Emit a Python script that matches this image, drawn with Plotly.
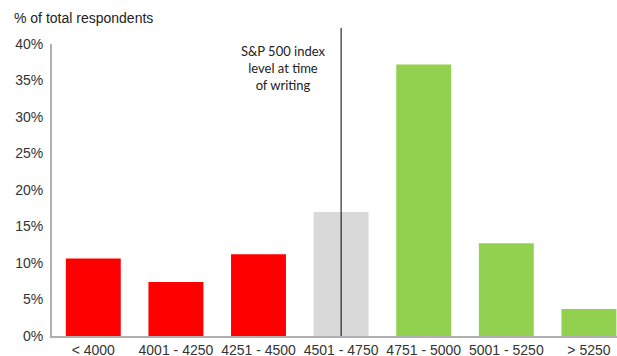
import plotly.graph_objects as go

categories = ["< 4000", "4001 - 4250", "4251 - 4500", "4501 - 4750", "4751 - 5000", "5001 - 5250", "> 5250"]
values = [10.6, 7.4, 11.2, 17.0, 37.2, 12.7, 3.7]
colors = ["#FF0000", "#FF0000", "#FF0000", "#D9D9D9", "#92D050", "#92D050", "#92D050"]
y_ticks = [0, 5, 10, 15, 20, 25, 30, 35, 40]
y_tick_labels = [f"{t}%" for t in y_ticks]
marker_position = 3  # category index of current index level line

fig = go.Figure()
fig.add_trace(go.Bar(
    x=list(range(len(categories))), y=values,
    marker=dict(color=colors, line=dict(width=0)),
    width=0.665,
    hoverinfo="skip",
))

fig.update_layout(
    width=617, height=356,
    margin=dict(l=52, r=0, t=44, b=20),
    paper_bgcolor="white", plot_bgcolor="white",
    showlegend=False,
    font=dict(family="Liberation Sans, Arial", size=14, color="#333333"),
    xaxis=dict(
        range=[-0.5, 6.34],
        tickmode="array", tickvals=list(range(len(categories))), ticktext=categories,
        showgrid=False, zeroline=False,
        showline=True, linecolor="#B0B0B0", linewidth=2,
        ticks="", tickfont=dict(size=14, color="#333333"),
        automargin=False, fixedrange=True,
    ),
    yaxis=dict(
        range=[0, 40],
        tickmode="array", tickvals=y_ticks, ticktext=y_tick_labels,
        showgrid=False, zeroline=False,
        showline=True, linecolor="#B0B0B0", linewidth=2,
        ticks="", tickfont=dict(size=14, color="#333333"),
        ticklabelstandoff=4,
        automargin=False, fixedrange=True,
    ),
)

fig.add_shape(
    type="line", xref="x", yref="paper",
    x0=marker_position, x1=marker_position, y0=0, y1=1.055,
    line=dict(color="#000000", width=1),
)

fig.add_annotation(
    text="S&P 500 index<br>level at time<br>of writing",
    xref="x", yref="paper", x=2.3, y=(336 - 67.5) / 292,
    xanchor="center", yanchor="middle",
    showarrow=False, align="center",
    font=dict(family="Lato, Carlito, Calibri", size=13, color="#222222"),
)

fig.add_annotation(
    text="% of total respondents",
    xref="paper", yref="paper", x=-52/565 + 12/565, y=1 + (44 - 18) / 292,
    xanchor="left", yanchor="middle", showarrow=False,
    font=dict(family="Liberation Sans, Arial", size=14, color="#222222"),
)

fig.write_html("out.html")
